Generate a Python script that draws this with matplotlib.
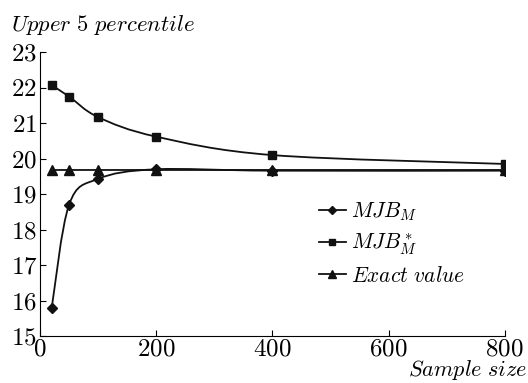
import numpy as np
import matplotlib
matplotlib.use("Agg")
import matplotlib.pyplot as plt
from matplotlib.path import Path
from matplotlib.patches import PathPatch
from matplotlib.lines import Line2D

plt.rcParams['mathtext.fontset'] = 'cm'
plt.rcParams['font.family'] = 'cmr10'
plt.rcParams['axes.formatter.use_mathtext'] = True

sample_size = [20, 50, 100, 200, 400, 800]
mjb_m = [15.78, 18.7, 19.43, 19.7, 19.66, 19.66]
mjb_star_m = [22.07, 21.75, 21.17, 20.62, 20.1, 19.85]
exact_value = [19.68, 19.68, 19.68, 19.68, 19.68, 19.68]

x_ticks = [0, 200, 400, 600, 800]
y_ticks = [15, 16, 17, 18, 19, 20, 21, 22, 23]


def smooth_path(xs, ys, tension=1/6):
    xs = np.asarray(xs, float); ys = np.asarray(ys, float)
    pts = np.column_stack([xs, ys])
    verts = [pts[0]]
    codes = [Path.MOVETO]
    n = len(pts)
    for i in range(n - 1):
        p0 = pts[i - 1] if i > 0 else pts[i]
        p1 = pts[i]
        p2 = pts[i + 1]
        p3 = pts[i + 2] if i + 2 < n else pts[i + 1]
        c1 = p1 + (p2 - p0) * tension
        c2 = p2 - (p3 - p1) * tension
        verts += [c1, c2, p2]
        codes += [Path.CURVE4] * 3
    return Path(verts, codes)


fig = plt.figure(figsize=(5.28, 3.83), dpi=100)
ax = fig.add_axes([0.0758, 0.1227, 0.880, 0.741])

lw = 1.3
for ys in (mjb_m, mjb_star_m, exact_value):
    ax.add_patch(PathPatch(smooth_path(sample_size, ys), fill=False,
                           edgecolor='#111111', lw=lw, zorder=2))

ax.plot(sample_size, mjb_m, linestyle='none', marker='D', ms=5.5, color='#111111', zorder=3)
ax.plot(sample_size, mjb_star_m, linestyle='none', marker='s', ms=6, color='#111111', zorder=3)
ax.plot(sample_size, exact_value, linestyle='none', marker='^', ms=7.5, color='#111111', zorder=3)

ax.set_xlim(0, 800)
ax.set_ylim(15, 23)
ax.set_xticks(x_ticks)
ax.set_yticks(y_ticks)
ax.set_xticklabels([f'${v}$' for v in x_ticks])
ax.set_yticklabels([f'${v}$' for v in y_ticks])
ax.tick_params(direction='in', length=4, width=0.8, labelsize=18, pad=2)
ax.tick_params(axis='x', pad=2)
for s in ('top', 'right'):
    ax.spines[s].set_visible(False)
for s in ('left', 'bottom'):
    ax.spines[s].set_linewidth(0.8)

fig.text(0.021, 0.919, r'$Upper\ \mathrm{5}\ percentile$', fontsize=16.3, ha='left', va='baseline')
fig.text(0.999, 0.018, r'$Sample\ size$', fontsize=16, ha='right', va='baseline')

handles = [
    Line2D([], [], color='#111111', lw=lw, marker='D', ms=4.5),
    Line2D([], [], color='#111111', lw=lw, marker='s', ms=4.5),
    Line2D([], [], color='#111111', lw=lw, marker='^', ms=6),
]
labels = [r'$MJB_M$', r'$MJB^*_M$', r'$Exact\ value$']
ax.legend(handles, labels, frameon=False, fontsize=15.4, loc='upper left',
          bbox_to_anchor=(0.582, 0.507), handlelength=1.25, handletextpad=0.25,
          labelspacing=0.4, borderaxespad=0)

fig.savefig('out.png', dpi=100)
